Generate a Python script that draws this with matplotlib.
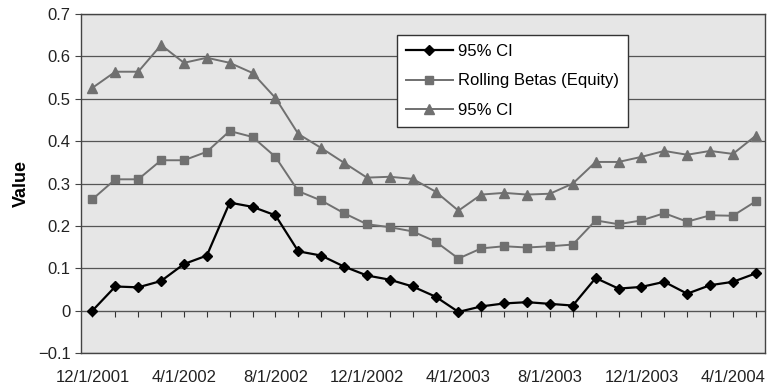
import numpy as np
import matplotlib
matplotlib.use("Agg")
import matplotlib.pyplot as plt

plt.rcParams['font.family'] = ['Liberation Sans', 'DejaVu Sans']

# mois du 12/1/2001 au 5/1/2004
mois = ["12/1/2001", "1/1/2002", "2/1/2002", "3/1/2002", "4/1/2002", "5/1/2002",
        "6/1/2002", "7/1/2002", "8/1/2002", "9/1/2002", "10/1/2002", "11/1/2002",
        "12/1/2002", "1/1/2003", "2/1/2003", "3/1/2003", "4/1/2003", "5/1/2003",
        "6/1/2003", "7/1/2003", "8/1/2003", "9/1/2003", "10/1/2003", "11/1/2003",
        "12/1/2003", "1/1/2004", "2/1/2004", "3/1/2004", "4/1/2004", "5/1/2004"]

ci_bas = [0.0, 0.057, 0.055, 0.07, 0.11, 0.13, 0.255, 0.245, 0.225, 0.14,
          0.13, 0.104, 0.083, 0.073, 0.057, 0.033, -0.003, 0.01, 0.017, 0.02,
          0.016, 0.012, 0.077, 0.052, 0.056, 0.068, 0.04, 0.06, 0.068, 0.088]

betas = [0.263, 0.31, 0.31, 0.355, 0.355, 0.375, 0.424, 0.41, 0.363, 0.282,
         0.26, 0.23, 0.204, 0.197, 0.187, 0.163, 0.123, 0.147, 0.152, 0.149,
         0.152, 0.156, 0.213, 0.204, 0.213, 0.23, 0.21, 0.225, 0.224, 0.258]

ci_haut = [0.526, 0.564, 0.564, 0.627, 0.585, 0.597, 0.585, 0.561, 0.502, 0.417,
           0.384, 0.349, 0.314, 0.316, 0.311, 0.281, 0.236, 0.274, 0.278, 0.274,
           0.276, 0.3, 0.351, 0.351, 0.363, 0.377, 0.368, 0.377, 0.37, 0.413]

x = np.arange(len(mois))

fig = plt.figure(figsize=(7.68, 3.92), dpi=100)
ax = fig.add_axes([0.1055, 0.0995, 0.8905, 0.8645])
ax.set_facecolor("#e6e6e6")

ax.plot(x, ci_bas, color="black", lw=1.6, marker="D", ms=5.5, label="95% CI")
ax.plot(x, betas, color="#707070", lw=1.4, marker="s", ms=5.5, label="Rolling Betas (Equity)")
ax.plot(x, ci_haut, color="#707070", lw=1.4, marker="^", ms=6.5, label="95% CI")

ax.set_ylim(-0.1, 0.7)
ax.set_xlim(-0.5, 29.4)
ax.set_yticks(np.arange(-0.1, 0.71, 0.1))
ax.set_yticklabels(["\u22120.1", "0", "0.1", "0.2", "0.3", "0.4", "0.5", "0.6", "0.7"])
ax.grid(axis="y", color="#555555", lw=0.9)
ax.set_axisbelow(True)

ax.set_xticks(x[::4])
ax.set_xticklabels(mois[::4])
ax.tick_params(axis="x", length=0, pad=12, labelsize=12, labelcolor="#222222")
ax.tick_params(axis="y", length=4, labelsize=12, color="#444444", labelcolor="#222222")

# axe des x à y=0 avec graduations mensuelles
ax0 = ax.secondary_xaxis(0.125)
ax0.set_xticks(x)
ax0.tick_params(axis="x", length=4, labelbottom=False, color="#333333")
ax0.spines["bottom"].set_color("#333333")

for s in ax.spines.values():
    s.set_color("#444444")
    s.set_linewidth(1.0)

ax.set_ylabel("Value", fontsize=13, fontweight="bold", labelpad=6)

leg = ax.legend(loc="upper left", bbox_to_anchor=(0.462, 0.938), fontsize=12,
                frameon=True, fancybox=False, edgecolor="#333333", framealpha=1,
                handlelength=2.8, labelspacing=0.85, borderpad=0.55, handletextpad=0.3,
                borderaxespad=0)
leg.get_frame().set_linewidth(1.0)

fig.savefig("out.png", dpi=100)
